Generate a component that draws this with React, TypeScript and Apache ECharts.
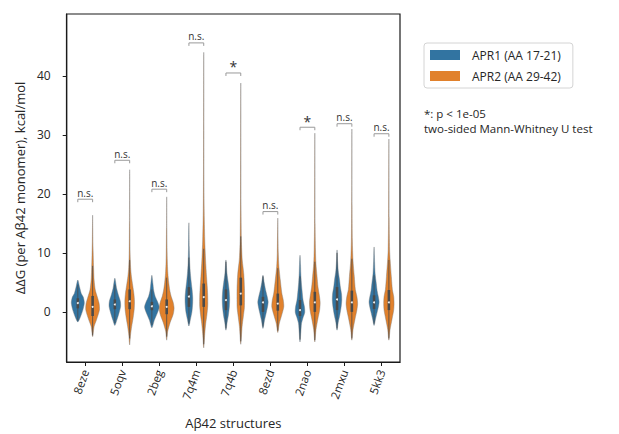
import React, { useEffect, useRef } from 'react';
import * as echarts from 'echarts';

const categories = ['8eze', '5oqv', '2beg', '7q4m', '7q4b', '8ezd', '2nao', '2mxu', '5kk3'];
const seriesNames = ['APR1 (AA 17-21)', 'APR2 (AA 29-42)'];

// violin density profiles: [value (kcal/mol), relative half-width]
const apr1Profiles: number[][][] = [
  [[-1.7, 0], [-0.9, 0.34], [0.3, 0.68], [1.5, 0.88], [2.5, 0.74], [3.1, 0.47], [4.2, 0.24], [5.4, 0]],
  [[-2.3, 0], [-1.4, 0.27], [-0.3, 0.54], [0.9, 0.78], [1.8, 0.74], [2.9, 0.47], [4.0, 0.24], [5.7, 0]],
  [[-2.7, 0], [-1.4, 0.34], [-0.2, 0.74], [0.8, 0.99], [1.6, 0.81], [2.6, 0.45], [3.7, 0.24], [4.8, 0.14], [6.2, 0]],
  [[-2.4, 0], [-1.3, 0.2], [0, 0.41], [1.5, 0.51], [2.6, 0.51], [4, 0.41], [5.2, 0.3], [6.5, 0.2], [8.2, 0.11], [11, 0.05], [15.1, 0]],
  [[-3.1, 0], [-1.8, 0.16], [-0.5, 0.34], [1, 0.47], [2.3, 0.5], [3.7, 0.43], [5, 0.3], [6.5, 0.14], [8.8, 0]],
  [[-2.8, 0], [-1.5, 0.2], [0, 0.47], [1.1, 0.65], [1.7, 0.7], [2.6, 0.57], [3.8, 0.34], [5, 0.16], [6.2, 0]],
  [[-5.1, 0], [-3.5, 0.11], [-2, 0.2], [-1, 0.41], [-0.1, 0.64], [0.8, 0.61], [2, 0.41], [3.7, 0.27], [5, 0.18], [6.5, 0.11], [8, 0.07], [9.6, 0]],
  [[-3.1, 0], [-1.8, 0.16], [-0.5, 0.38], [1, 0.57], [2, 0.64], [3, 0.61], [4.2, 0.45], [5.4, 0.34], [7, 0.16], [8.5, 0.08], [10.5, 0]],
  [[-2.3, 0], [-1.2, 0.2], [0, 0.43], [1, 0.61], [1.7, 0.68], [2.6, 0.57], [3.6, 0.41], [4.8, 0.3], [6.5, 0.14], [8.5, 0.07], [11, 0]],
];

const apr2Profiles: number[][][] = [
  [[-4.2, 0], [-2.5, 0.2], [-1.4, 0.51], [0.3, 0.92], [1.4, 0.88], [2.5, 0.64], [3.7, 0.36], [5.4, 0.2], [7.1, 0.14], [8.8, 0.1], [12, 0.04], [16.4, 0]],
  [[-5.6, 0], [-4, 0.11], [-2.5, 0.27], [-1, 0.47], [0.5, 0.62], [1.8, 0.65], [3, 0.58], [4.5, 0.41], [6, 0.24], [7.5, 0.13], [10, 0.06], [15, 0.03], [24.1, 0]],
  [[-4.8, 0], [-3.3, 0.14], [-1.8, 0.47], [-0.4, 0.88], [0.6, 1], [1.6, 0.88], [2.6, 0.61], [3.7, 0.41], [5, 0.27], [6.5, 0.16], [8, 0.1], [10, 0.06], [14, 0.03], [19.5, 0]],
  [[-6.1, 0], [-3.7, 0.14], [-2, 0.27], [-0.5, 0.43], [1, 0.54], [2.5, 0.54], [4, 0.49], [6, 0.38], [8.8, 0.25], [12.2, 0.14], [17.5, 0.06], [25, 0.03], [44, 0]],
  [[-5.5, 0], [-2.5, 0.18], [-0.85, 0.34], [0.7, 0.49], [2.5, 0.51], [4, 0.5], [6.4, 0.41], [8.8, 0.2], [10.5, 0.13], [12.4, 0.08], [20, 0.03], [38.8, 0]],
  [[-3.5, 0], [-2, 0.2], [-0.5, 0.54], [0.85, 0.81], [2, 0.74], [3.2, 0.54], [5.4, 0.34], [7.7, 0.15], [10, 0.07], [15.9, 0]],
  [[-5.1, 0], [-3, 0.16], [-1.2, 0.41], [0.3, 0.65], [1.6, 0.72], [2.8, 0.61], [4.2, 0.43], [6, 0.3], [8.2, 0.15], [10.5, 0.09], [15, 0.04], [30.3, 0]],
  [[-4.8, 0], [-3, 0.16], [-1.2, 0.43], [0.3, 0.68], [1.4, 0.78], [2.6, 0.68], [3.8, 0.47], [6, 0.33], [8.8, 0.15], [12, 0.07], [18, 0.03], [31, 0]],
  [[-4.8, 0], [-3, 0.16], [-1.2, 0.43], [0.3, 0.65], [1.4, 0.7], [2.6, 0.65], [3.8, 0.47], [6, 0.33], [8.8, 0.17], [10.5, 0.1], [16, 0.04], [29.3, 0]],
];

// inner box: [q1, median, q3, whiskerLow, whiskerHigh]
const apr1Box: number[][] = [
  [0.6, 1.5, 2.3, -1.5, 4.6],
  [0.45, 1.25, 2.1, -1.9, 4.6],
  [0.28, 0.95, 1.7, -2.2, 3.8],
  [0.85, 2.6, 4.2, -2.0, 9.2],
  [0.3, 2.0, 3.8, -2.8, 8.5],
  [0, 1.6, 2.55, -2.5, 6.0],
  [-0.7, 0.3, 2.0, -4.7, 6.0],
  [0.3, 2.1, 4.2, -2.8, 10.0],
  [0.5, 1.6, 2.8, -2.0, 6.2],
];
const apr2Box: number[][] = [
  [-0.7, 0.85, 2.7, -4.0, 7.8],
  [0.45, 1.8, 3.8, -4.5, 8.8],
  [-0.4, 0.85, 2.1, -4.2, 5.8],
  [0.85, 2.5, 4.8, -5.5, 10.7],
  [1.1, 3.1, 5.8, -5.0, 12.8],
  [0.2, 1.4, 3.1, -3.2, 7.4],
  [0, 1.6, 3.4, -4.8, 8.5],
  [0, 1.6, 3.6, -4.5, 9.0],
  [0.3, 1.6, 3.7, -4.5, 8.8],
];

const bracketHeights = [19.1, 25.7, 20.8, 45.6, 40.5, 17.0, 31.3, 31.9, 30.2];
const significance = ['n.s.', 'n.s.', 'n.s.', 'n.s.', '*', 'n.s.', '*', 'n.s.', 'n.s.'];
const yTicks = [0, 10, 20, 30, 40];
const noteLines = ['*: p < 1e-05', 'two-sided Mann-Whitney U test'];

const BLUE = '#3274a1';
const ORANGE = '#e1812c';
const FONT = '"Open Sans", "Noto Sans", sans-serif';
const TXT = '#262626';

function violinRenderer(profiles: number[][][], boxes: number[][], side: number, color: string) {
  return (params: any, api: any) => {
    const idx = api.value(0);
    const band = api.size([1, 0])[0];
    const cx = api.coord([idx, 0])[0] + side * band * 0.2;
    const maxHalf = band * 0.2;
    const yOf = (v: number) => api.coord([idx, v])[1];
    const prof = profiles[idx];
    const right = prof.map(([v, d]) => [cx + d * maxHalf, yOf(v)]);
    const left = prof.slice(1, -1).reverse().map(([v, d]) => [cx - d * maxHalf, yOf(v)]);
    const [q1, med, q3, wLo, wHi] = boxes[idx];
    return {
      type: 'group',
      children: [
        {
          type: 'polygon',
          shape: { points: right.concat(left), smooth: 0.25 },
          style: { fill: color, stroke: 'rgba(120,120,120,0.7)', lineWidth: 0.6 },
        },
        {
          type: 'line',
          shape: { x1: cx, y1: yOf(wLo), x2: cx, y2: yOf(wHi) },
          style: { stroke: '#4a4a4a', lineWidth: 0.8 },
        },
        {
          type: 'rect',
          shape: { x: cx - 1.3, y: yOf(q3), width: 2.6, height: yOf(q1) - yOf(q3) },
          style: { fill: '#4a4a4a' },
        },
        {
          type: 'circle',
          shape: { cx, cy: yOf(med), r: 1 },
          style: { fill: '#f0f0f0' },
        },
      ],
    };
  };
}

function bracketRenderer(params: any, api: any) {
  const idx = api.value(0);
  const h = api.value(1);
  const band = api.size([1, 0])[0];
  const c = api.coord([idx, h]);
  const x1 = c[0] - band * 0.2;
  const x2 = c[0] + band * 0.2;
  const y = c[1];
  const label = significance[idx];
  const star = label === '*';
  return {
    type: 'group',
    children: [
      {
        type: 'polyline',
        shape: { points: [[x1, y + 3], [x1, y], [x2, y], [x2, y + 3]] },
        style: { stroke: '#9a9a9a', lineWidth: 1, fill: 'none' },
      },
      {
        type: 'text',
        x: c[0],
        y: star ? y + 1 : y - 1.5,
        style: {
          text: label,
          fontSize: star ? 14 : 10,
          fontFamily: FONT,
          fill: '#333333',
          align: 'center',
          verticalAlign: 'bottom',
        },
      },
    ],
  };
}

export default function App() {
  const ref = useRef<HTMLDivElement>(null);
  useEffect(() => {
    document.body.style.margin = '0';
    if (!ref.current) return;
    const chart = echarts.init(ref.current, null, { renderer: 'svg' });
    const idxData = categories.map((_, i) => [i, 0]);
    chart.setOption({
      animation: false,
      grid: {
        left: 66.7,
        right: 219,
        top: 14,
        bottom: 72,
        show: true,
        borderColor: '#1a1a1a',
        borderWidth: 1.2,
        backgroundColor: 'transparent',
      },
      legend: {
        orient: 'vertical',
        left: 424,
        top: 43,
        selectedMode: false,
        data: seriesNames,
        icon: 'rect',
        itemWidth: 30,
        itemHeight: 10,
        itemGap: 7,
        padding: [5, 12, 5, 6],
        borderColor: '#d4d4d4',
        borderWidth: 1,
        borderRadius: 3,
        textStyle: { fontSize: 12, color: TXT, fontFamily: FONT, lineHeight: 14, padding: [0, 0, 0, 7] },
      },
      xAxis: {
        type: 'category',
        data: categories,
        name: 'Aβ42 structures',
        nameLocation: 'middle',
        nameGap: 54,
        nameTextStyle: { fontSize: 13, color: TXT, fontFamily: FONT },
        axisLine: { show: true, onZero: false, lineStyle: { color: '#1a1a1a', width: 1.2 } },
        axisTick: { show: true, alignWithLabel: true, length: 4, lineStyle: { color: '#1a1a1a', width: 1 } },
        axisLabel: { rotate: 70, fontSize: 11.5, color: TXT, fontFamily: FONT, margin: 8, interval: 0 },
        splitLine: { show: false },
      },
      yAxis: {
        type: 'value',
        min: -8.5,
        max: 50.5,
        name: 'ΔΔG (per Aβ42 monomer), kcal/mol',
        nameLocation: 'middle',
        nameGap: 38,
        nameTextStyle: { fontSize: 13, color: TXT, fontFamily: FONT },
        axisLine: { show: true, onZero: false, lineStyle: { color: '#1a1a1a', width: 1.2 } },
        axisTick: { show: true, length: 4, customValues: yTicks, lineStyle: { color: '#1a1a1a', width: 1 } },
        axisLabel: { customValues: yTicks, fontSize: 12, color: TXT, fontFamily: FONT, margin: 16 },
        splitLine: { show: false },
      },
      graphic: noteLines.map((t, i) => ({
        type: 'text',
        left: 424,
        top: 107 + i * 15,
        style: { text: t, fontSize: 11.5, fill: TXT, fontFamily: FONT },
      })),
      series: [
        {
          type: 'custom',
          name: seriesNames[0],
          itemStyle: { color: BLUE },
          renderItem: violinRenderer(apr1Profiles, apr1Box, -1, BLUE),
          encode: { x: 0, y: 1 },
          data: idxData,
          silent: true,
        },
        {
          type: 'custom',
          name: seriesNames[1],
          itemStyle: { color: ORANGE },
          renderItem: violinRenderer(apr2Profiles, apr2Box, 1, ORANGE),
          encode: { x: 0, y: 1 },
          data: idxData,
          silent: true,
        },
        {
          type: 'custom',
          name: 'significance',
          renderItem: bracketRenderer,
          encode: { x: 0, y: 1 },
          data: bracketHeights.map((h, i) => [i, h]),
          silent: true,
        },
      ],
    });
    return () => chart.dispose();
  }, []);
  return <div ref={ref} style={{ width: 619, height: 434 }} />;
}
